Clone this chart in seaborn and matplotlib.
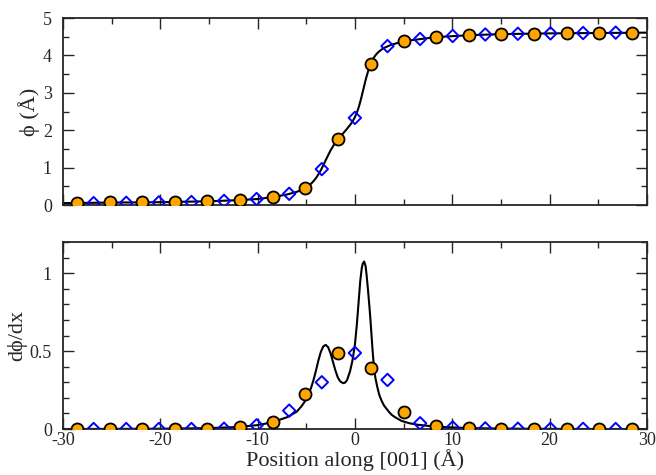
import numpy as np
import pandas as pd
import matplotlib
matplotlib.use("Agg")
import matplotlib.pyplot as plt
from matplotlib.ticker import MultipleLocator
import seaborn as sns

# marker positions along [001] (Angstrom)
x_circ = [-28.55, -25.2, -21.85, -18.5, -15.15, -11.8, -8.45, -5.1, -1.7,
          1.65, 5.0, 8.35, 11.7, 15.05, 18.4, 21.75, 25.1, 28.45]
x_diam = [-26.85, -23.5, -20.15, -16.8, -13.45, -10.1, -6.75, -3.4, 0.0,
          3.35, 6.7, 10.05, 13.4, 16.75, 20.1, 23.45, 26.8]

# phi values at markers
phi_circ = [0.06, 0.07, 0.08, 0.09, 0.11, 0.13, 0.21, 0.455, 1.76,
            3.77, 4.38, 4.50, 4.54, 4.57, 4.58, 4.59, 4.60, 4.61]
phi_diam = [0.05, 0.06, 0.07, 0.08, 0.11, 0.16, 0.30, 0.96, 2.33,
            4.25, 4.44, 4.52, 4.56, 4.58, 4.59, 4.60, 4.61]

# dphi/dx values at markers
dphi_circ = [0.0, 0.0, 0.0, 0.0, 0.003, 0.015, 0.047, 0.227, 0.49,
             0.39, 0.107, 0.021, 0.006, 0.003, 0.002, 0.001, 0.001, 0.0]
dphi_diam = [0.0, 0.0, 0.0, 0.0, 0.002, 0.024, 0.118, 0.30, 0.488,
             0.315, 0.037, 0.01, 0.004, 0.002, 0.001, 0.001, 0.0]

# fitted curves
x_fit = [-30, -25, -20, -15, -12, -10, -8.5, -7, -6, -5.5, -5, -4.75, -4.5,
         -4.25, -4, -3.75, -3.5, -3.25, -3, -2.75, -2.5, -2.25, -2, -1.75,
         -1.5, -1.2, -1.0, -0.8, -0.5, -0.25, 0, 0.2, 0.4, 0.55, 0.7, 0.8,
         0.95, 1.1, 1.2, 1.35, 1.5, 1.6, 1.7, 1.8, 1.9, 2.0, 2.1, 2.3, 2.5,
         2.75, 3.0, 3.25, 3.5, 3.8, 4.2, 4.8, 5.6, 6.5, 8.3, 11.7, 15, 20,
         25, 30]
phi_fit = [0.05, 0.065, 0.075, 0.10, 0.13, 0.16, 0.21, 0.28, 0.35, 0.40,
           0.46, 0.51, 0.57, 0.64, 0.72, 0.82, 0.93, 1.06, 1.20, 1.33, 1.46,
           1.57, 1.67, 1.75, 1.83, 1.92, 1.98, 2.04, 2.14, 2.23, 2.35, 2.47,
           2.62, 2.76, 2.91, 3.02, 3.18, 3.34, 3.44, 3.57, 3.68, 3.75, 3.81,
           3.87, 3.92, 3.96, 4.00, 4.06, 4.11, 4.16, 4.20, 4.23, 4.26, 4.29,
           4.32, 4.36, 4.40, 4.43, 4.49, 4.54, 4.57, 4.59, 4.60, 4.61]
dphi_fit = [0.0, 0.001, 0.002, 0.006, 0.013, 0.025, 0.043, 0.075, 0.11,
            0.145, 0.19, 0.225, 0.265, 0.315, 0.375, 0.44, 0.495, 0.53, 0.54,
            0.525, 0.485, 0.43, 0.375, 0.33, 0.305, 0.294, 0.298, 0.315,
            0.37, 0.44, 0.54, 0.67, 0.83, 0.95, 1.03, 1.06, 1.075, 1.045,
            0.99, 0.89, 0.78, 0.70, 0.61, 0.52, 0.44, 0.38, 0.33, 0.27, 0.22,
            0.18, 0.15, 0.13, 0.11, 0.09, 0.073, 0.052, 0.037, 0.027, 0.015,
            0.006, 0.003, 0.001, 0.0, 0.0]

sns.set_style("ticks")
plt.rcParams['font.family'] = ['Liberation Serif', 'DejaVu Serif']
plt.rcParams['axes.unicode_minus'] = False

fig = plt.figure(figsize=(6.56, 4.75), dpi=100)
ax1 = fig.add_axes([0.096, 0.5684, 0.890, 0.3936])
ax2 = fig.add_axes([0.096, 0.0968, 0.890, 0.3937])

circ_kw = dict(marker="o", s=75, color="#FFA500", edgecolor="black", linewidth=1.3, zorder=3)
diam_kw = dict(marker="D", s=40, facecolor="none", edgecolor="#0000FF", linewidth=1.4, zorder=3)

for ax, yfit, yc, yd in [(ax1, phi_fit, phi_circ, phi_diam),
                         (ax2, dphi_fit, dphi_circ, dphi_diam)]:
    sns.lineplot(x=x_fit, y=yfit, ax=ax, color="black", linewidth=1.5, zorder=2)
    ax.scatter(x_circ, yc, **circ_kw)
    ax.scatter(x_diam, yd, **diam_kw)
    ax.set_xlim(-30, 30)
    ax.xaxis.set_major_locator(MultipleLocator(10))
    ax.xaxis.set_minor_locator(MultipleLocator(5))
    ax.tick_params(which="both", direction="in", top=True, right=True,
                   labelsize=13, width=1)
    ax.tick_params(axis="x", pad=2)
    ax.tick_params(axis="y", pad=8)
    ax.tick_params(which="major", length=8)
    ax.tick_params(which="minor", length=4)
    for sp in ax.spines.values():
        sp.set_linewidth(1.3)

ax1.set_ylim(0, 5)
ax1.yaxis.set_major_locator(MultipleLocator(1))
ax1.yaxis.set_minor_locator(MultipleLocator(0.5))
ax1.tick_params(labelbottom=False)
ax1.set_ylabel("ϕ (Å)", fontsize=16, labelpad=2)

ax2.set_ylim(0, 1.2)
ax2.yaxis.set_major_locator(MultipleLocator(0.5))
ax2.yaxis.set_minor_locator(MultipleLocator(0.1))
ax2.yaxis.set_major_formatter(plt.FuncFormatter(lambda v, p: f"{v:g}"))
ax2.set_ylabel("dϕ/dx", fontsize=16, labelpad=2)
ax2.set_xlabel("Position along [001] (Å)", fontsize=16, labelpad=0)

fig.savefig("out.png", dpi=100)
